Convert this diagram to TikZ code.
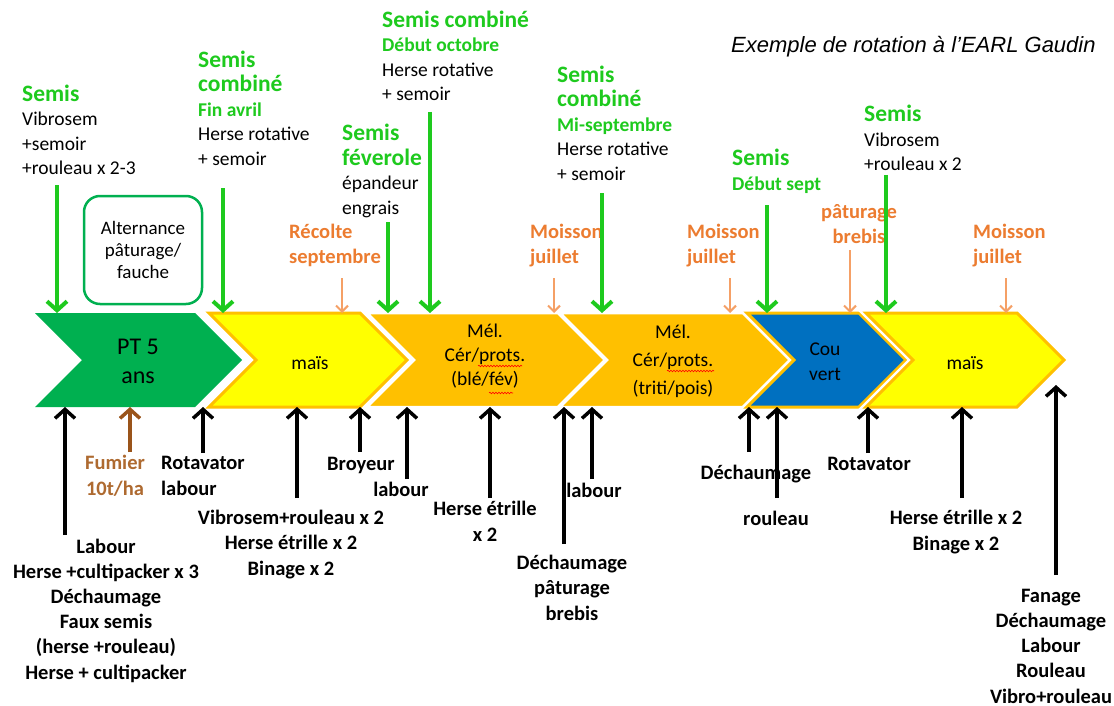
\documentclass[tikz,border=0pt]{standalone}
\usepackage{fontspec}
\setmainfont{Carlito}
\newfontfamily\titlefont{Liberation Sans}
\usetikzlibrary{arrows.meta}
\usetikzlibrary{decorations.pathmorphing}

\definecolor{vertsemis}{HTML}{1ECA1E}
\definecolor{vertpt}{HTML}{00B050}
\definecolor{jaune}{HTML}{FFFF00}
\definecolor{orangec}{HTML}{FFC000}
\definecolor{bleuc}{HTML}{0070C0}
\definecolor{orangetxt}{HTML}{EC7C30}
\definecolor{orangefl}{HTML}{F5A066}
\definecolor{bruntxt}{HTML}{AE6A30}
\definecolor{brunfl}{HTML}{9A541A}

\newcommand{\semt}[1]{{\color{vertsemis}\fontsize{23.5}{24.5}\selectfont\bfseries #1}}
\newcommand{\semd}[1]{{\color{vertsemis}\fontsize{19.5}{24.5}\selectfont\bfseries #1}}
% bande : style, bord gauche, pointe
\newcommand{\bande}[3]{%
  \path[#1] (#2,313) -- ({#3-47},313) -- (#3,360) -- ({#3-47},407)
    -- (#2,407) -- ({#2+47},360) -- cycle;}

\begin{document}
\begin{tikzpicture}[x=1pt,y=-1pt,
  semis/.style={draw=vertsemis, line width=4pt, -{Straight Barb[length=9pt,width=20pt]}},
  recolte/.style={draw=orangefl, line width=2pt, -{Straight Barb[length=6pt,width=12pt]}},
  outil/.style={draw=black, line width=3.5pt, -{Straight Barb[length=9pt,width=20pt]}},
  hautg/.style={anchor=base west, align=left, inner sep=0pt, font=\fontsize{19.5}{24.5}\selectfont},
  recl/.style={anchor=base west, align=left, inner sep=0pt, text=orangetxt, font=\fontsize{20.5}{25}\selectfont\bfseries},
  basl/.style={anchor=base, align=center, inner sep=0pt, font=\fontsize{20.5}{25.2}\selectfont\bfseries},
  dans/.style={anchor=base, align=center, inner sep=0pt, font=\fontsize{19.5}{24}\selectfont},
  souligne/.style={draw=red, line width=0.6pt, decorate, decoration={snake, amplitude=0.8pt, segment length=3pt}}]
  \useasboundingbox[fill=white] (0,0) rectangle (1114,706);

  \node[anchor=base west, inner sep=0pt, font=\titlefont\itshape\fontsize{22}{26}\selectfont] (titre)
    at (731,53) {Exemple de rotation à l’EARL Gaudin};

  % la rotation
  \bande{fill=vertpt}{35}{242}
  \bande{fill=jaune, draw=orangec, line width=3pt}{209}{407}
  \bande{fill=orangec, draw=white, line width=2.5pt}{367}{605}
  \bande{fill=orangec, draw=white, line width=2.5pt}{560}{790}
  \bande{fill=bleuc, draw=orangec, line width=3pt, preaction={draw=white, line width=8pt}}{747}{906}
  \bande{fill=jaune, draw=orangec, line width=3pt, preaction={draw=white, line width=8pt}}{866}{1064}
  \coordinate (haut) at (0,313);
  \coordinate (bas) at (0,407);

  \node[dans, font=\fontsize{24}{29}\selectfont] (pt) at (138,383) {PT 5\\ans};
  \node[dans] (maisA) at (310,369) {maïs};
  \node[dans, font=\fontsize{19.5}{24}\selectfont] (melA) at (485,385) {Mél.\\Cér/prots.\\(blé/fév)};
  \node[dans, font=\fontsize{19.5}{28}\selectfont] (melB) at (673,394) {Mél.\\Cér/prots.\\(triti/pois)};
  \node[dans, font=\fontsize{19.5}{25}\selectfont] (couv) at (825,380) {Cou\\vert};
  \node[dans] (maisB) at (965,369) {maïs};
  \draw[souligne] (478,366) -- (522,366);
  \draw[souligne] (489,393) -- (513,393);
  \draw[souligne] (667,371) -- (714,371);

  \node[draw=vertpt, line width=2.5pt, rounded corners=16pt, minimum width=118pt, minimum height=108pt,
    align=center, font=\fontsize{19}{22}\selectfont] (alt) at (143,250) {Alternance\\pâturage/\\fauche};

  % semis
  \node[hautg] (semA) at (22,175) {\semt{Semis}\\Vibrosem\\+semoir\\+rouleau x 2-3};
  \node[hautg] (semB) at (198,165) {\semt{Semis}\\\semt{combiné}\\\semd{Fin avril}\\Herse rotative\\+ semoir};
  \node[hautg] (semC) at (342,214) {\semt{Semis}\\\semt{féverole}\\épandeur\\engrais};
  \node[hautg] (semD) at (382,101) {\semt{Semis combiné}\\\semd{Début octobre}\\Herse rotative\\+ semoir};
  \node[hautg] (semE) at (557,180) {\semt{Semis}\\\semt{combiné}\\\semd{Mi-septembre}\\Herse rotative\\+ semoir};
  \node[hautg] (semF) at (732,190) {\semt{Semis}\\\semd{Début sept}};
  \node[hautg] (semG) at (864,171) {\semt{Semis}\\Vibrosem\\+rouleau x 2};

  % recoltes
  \node[recl] (recA) at (289,263) {Récolte\\septembre};
  \node[recl] (recB) at (530,263) {Moisson\\juillet};
  \node[recl] (recC) at (687,263) {Moisson\\juillet};
  \node[recl, anchor=base, align=center] (recD) at (859,243) {pâturage\\brebis};
  \node[recl] (recE) at (973,263) {Moisson\\juillet};

  % travaux du sol
  \node[basl] (labA) at (106,679) {Labour\\Herse +cultipacker x 3\\Déchaumage\\Faux semis\\(herse +rouleau)\\Herse + cultipacker};
  \node[basl, text=bruntxt] (fum) at (115,495) {Fumier\\10t/ha};
  \node[basl, anchor=base west, align=left] (rotA) at (161,495) {Rotavator\\labour};
  \node[basl] (vib) at (291,575) {Vibrosem+rouleau x 2\\Herse étrille x 2\\Binage x 2};
  \node[basl] (broy) at (361,470) {Broyeur};
  \node[basl] (labB) at (401,496) {labour};
  \node[basl] (herA) at (485,541) {Herse étrille\\x 2};
  \node[basl] (labC) at (594,497) {labour};
  \node[basl] (dechA) at (572,620) {Déchaumage\\pâturage\\brebis};
  \node[basl] (dechB) at (756,479) {Déchaumage};
  \node[basl] (roul) at (776,525) {rouleau};
  \node[basl] (rotB) at (869,470) {Rotavator};
  \node[basl] (herB) at (956,550) {Herse étrille x 2\\Binage x 2};
  \node[basl] (fan) at (1051,703) {Fanage\\Déchaumage\\Labour\\Rouleau\\Vibro+rouleau};

  % fleches
  \foreach \x/\y [count=\i] in {57/185, 223/188, 388/222, 430/112, 602/193, 767/205, 886/175} {
    \coordinate (g\i) at (\x,\y);
    \draw[semis] (g\i) -- (g\i |- haut);
  }
  \foreach \x/\y [count=\i] in {342/278, 554/278, 730/278, 850/250, 1006/278} {
    \coordinate (r\i) at (\x,\y);
    \draw[recolte] (r\i) -- (r\i |- haut);
  }
  \foreach \x/\y [count=\i] in {65/535, 203/453, 297/498, 360/452, 407/479, 490/498,
      564/544, 592/479, 749/452, 777/498, 868/453, 962/498} {
    \coordinate (o\i) at (\x,\y);
    \draw[outil] (o\i) -- (o\i |- bas);
  }
  \coordinate (fm) at (130,452);
  \draw[outil, draw=brunfl] (fm) -- (fm |- bas);
  \coordinate (fin) at (1056,575);
  \coordinate (pointe) at (1056,385);
  \draw[outil] (fin) -- (pointe);
\end{tikzpicture}
\end{document}
